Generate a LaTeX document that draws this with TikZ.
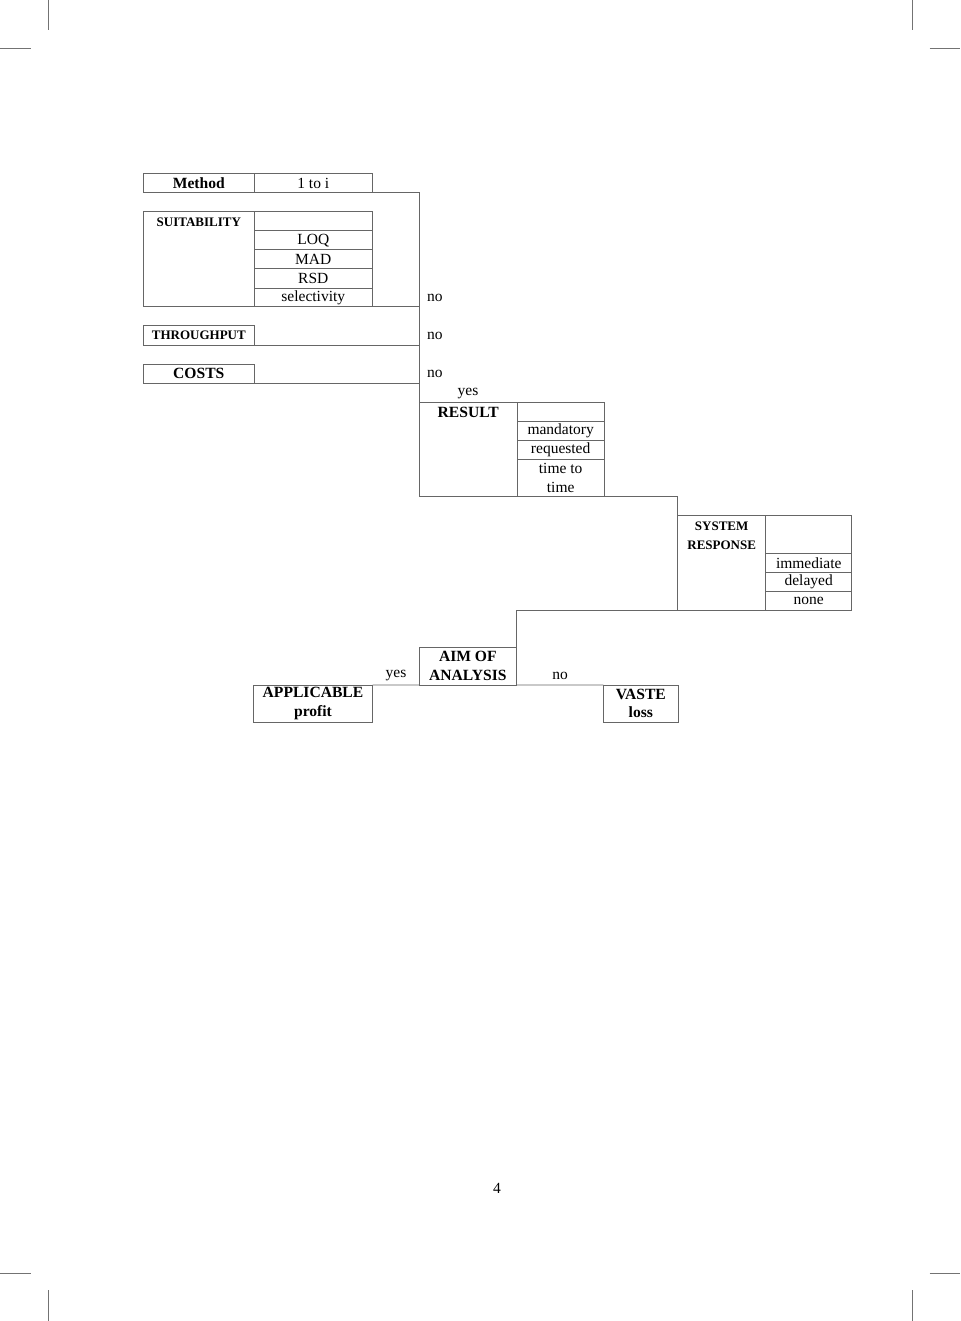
\documentclass[tikz,border=0pt]{standalone}
\usepackage{fontspec}
\setmainfont{Liberation Serif}
\begin{document}
\begin{tikzpicture}[x=1pt,y=-1pt,
  cell/.style={draw=black!60, line width=0.9pt, inner sep=0pt, outer sep=0pt, anchor=north west, align=center,
    font=\fontsize{15.5}{18.5}\selectfont},
  bcell/.style={cell, font=\fontsize{15.6}{18.5}\selectfont\bfseries},
  scell/.style={cell, font=\fontsize{13}{19}\selectfont\bfseries},
  btext/.style={inner sep=0pt, align=center, font=\fontsize{15.6}{18.5}\selectfont\bfseries},
  stext/.style={inner sep=0pt, align=center, font=\fontsize{13}{19}\selectfont\bfseries},
  lab/.style={inner sep=0pt, font=\fontsize{15.5}{18.5}\selectfont},
  conn/.style={draw=black!60, line width=0.9pt},
  crop/.style={draw=black!55, line width=0.8pt}]
\useasboundingbox (0,0) rectangle (960,1321);
% crop marks
\draw[crop] (48,0) -- (48,30.5);
\draw[crop] (0,48) -- (30.5,48);
\draw[crop] (912,0) -- (912,30.5);
\draw[crop] (929.5,48) -- (960,48);
\draw[crop] (0,1273) -- (30.5,1273);
\draw[crop] (48,1290) -- (48,1321);
\draw[crop] (929.5,1273) -- (960,1273);
\draw[crop] (912,1290) -- (912,1321);

% Method row
\node[bcell, minimum width=111pt, minimum height=19.4pt] (method) at (143.3,173.3) {Method};
\node[cell, minimum width=118pt, minimum height=19.4pt] (oneto) at (254.3,173.3) {1 to i};

% Suitability
\node[cell, minimum width=111pt, minimum height=95pt] (suit) at (143.3,211.7) {};
\node[stext] (suitl) at (198.8,222) {SUITABILITY};
\node[cell, minimum width=118pt, minimum height=19pt] (s0) at (254.3,211.7) {};
\node[cell, minimum width=118pt, minimum height=19pt] (loq) at (254.3,230.7) {LOQ};
\node[cell, minimum width=118pt, minimum height=19pt] (mad) at (254.3,249.7) {MAD};
\node[cell, minimum width=118pt, minimum height=19.3pt] (rsd) at (254.3,268.7) {RSD};
\node[cell, minimum width=118pt, minimum height=18.7pt] (sel) at (254.3,288) {selectivity};

% Throughput, costs
\node[scell, minimum width=111pt, minimum height=19.3pt] (thr) at (143.3,325.7) {THROUGHPUT};
\node[bcell, minimum width=111pt, minimum height=19.3pt] (costs) at (143.3,364) {COSTS};

% Result
\node[cell, minimum width=98.3pt, minimum height=94.4pt] (result) at (419,402.3) {};
\node[btext] (resultl) at (468.2,412) {RESULT};
\node[cell, minimum width=86.7pt, minimum height=19.4pt] (r0) at (517.3,402.3) {};
\node[cell, minimum width=86.7pt, minimum height=18.6pt] (mand) at (517.3,421.7) {mandatory};
\node[cell, minimum width=86.7pt, minimum height=19pt] (req) at (517.3,440.3) {requested};
\node[cell, minimum width=86.7pt, minimum height=37.4pt] (ttt) at (517.3,459.3) {time to\\time};

% System response
\node[cell, minimum width=88pt, minimum height=94.3pt] (sys) at (677.7,515.7) {};
\node[stext] (sysl) at (721.7,535.5) {SYSTEM\\RESPONSE};
\node[cell, minimum width=86pt, minimum height=37.6pt] (y0) at (765.7,515.7) {};
\node[cell, minimum width=86pt, minimum height=19pt] (imm) at (765.7,553.3) {immediate};
\node[cell, minimum width=86pt, minimum height=19pt] (del) at (765.7,572.3) {delayed};
\node[cell, minimum width=86pt, minimum height=18.7pt] (none) at (765.7,591.3) {none};

% Aim of analysis and outcomes
\node[bcell, minimum width=97.7pt, minimum height=37.7pt] (aim) at (419,647.3) {AIM OF\\ANALYSIS};
\node[bcell, minimum width=119.4pt, minimum height=37.3pt] (app) at (253.3,685) {APPLICABLE\\profit};
\node[bcell, minimum width=75pt, minimum height=37.3pt] (vaste) at (603.3,685) {VASTE\\loss};

% connectors
\draw[conn] (oneto.south east) -| (result.north west);
\draw[conn] (sel.south east) -- (sel.south east -| result.west);
\draw[conn] (thr.south east) -- (thr.south east -| result.west);
\draw[conn] (costs.south east) -- (costs.south east -| result.west);
\draw[conn] (ttt.south east) -| (sys.north west);
\draw[conn] (sys.south west) -| (aim.north east);
\draw[conn] (aim.south west) -- (app.north east);
\draw[conn] (aim.south east) -- (vaste.north west);

% branch labels
\node[lab, anchor=west] (no1) at (427,298) {no};
\node[lab, anchor=west] (no2) at (427,336) {no};
\node[lab, anchor=west] (no3) at (427,374) {no};
\node[lab] (yes1) at (468,393.5) {yes};
\node[lab] (yes2) at (396,676) {yes};
\node[lab] (no4) at (560,676) {no};

% page number
\node[lab] (page) at (497,1188) {4};
\end{tikzpicture}
\end{document}
